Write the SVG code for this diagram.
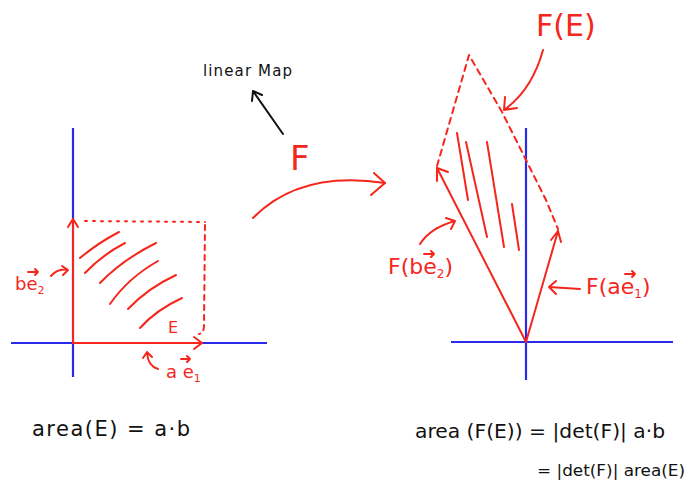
<svg xmlns="http://www.w3.org/2000/svg" width="689" height="485" viewBox="0 0 689 485">
<style>
.ax{stroke:#2a2ae8;stroke-width:2.2;fill:none}
.r{stroke:#f5261c;stroke-width:2;fill:none;stroke-linecap:round;stroke-linejoin:round}
.rt{fill:#f5261c;font-family:"DejaVu Sans",sans-serif}
.bt{fill:#111;font-family:"DejaVu Sans",sans-serif}
.k{stroke:#111;stroke-width:2;fill:none;stroke-linecap:round;stroke-linejoin:round}
</style>
<rect width="689" height="485" fill="#fff"/>
<g id="left-axes">
<line class="ax" x1="73" y1="128" x2="73" y2="377"/>
<line class="ax" x1="11" y1="343" x2="267" y2="343"/>
</g>
<g id="region-E">
<path class="r" d="M85 221 L205 222" stroke-dasharray="2 6"/>
<path class="r" d="M205 225 L204 326 Q204 333 199 334" stroke-dasharray="5 5"/>
<path class="r" d="M80 258 Q98 243 119 232"/>
<path class="r" d="M85 273 Q102 255 125 243"/>
<path class="r" d="M100 283 Q122 260 156 243"/>
<path class="r" d="M110 304 Q128 278 158 261"/>
<path class="r" d="M128 309 Q148 288 176 275"/>
<path class="r" d="M140 328 Q156 310 182 298"/>
<text class="rt" x="168" y="333" font-size="16">E</text>
</g>
<g id="vec-ae1">
<line class="r" x1="73" y1="343" x2="202" y2="343" stroke-width="2.6"/>
<path class="r" d="M194 337 L202 343 L194 349"/>
<path class="r" d="M158 369 Q148 366 147 353 M143 358 L147 352 L152 357"/>
<text class="rt" x="166" y="378" font-size="18">a e<tspan dy="4" font-size="11">1</tspan></text>
<path class="r" stroke-width="1.4" d="M181 359 L190 359 M187 356 L190 359 L187 362"/>
</g>
<g id="vec-be2">
<line class="r" x1="73" y1="343" x2="73" y2="219" stroke-width="2.6"/>
<path class="r" d="M68 227 L73 219 L78 227"/>
<path class="r" d="M51 276 Q58 268 68 270 M62 266 L68 270 L63 275"/>
<text class="rt" x="15" y="290" font-size="18">be<tspan dy="4" font-size="11">2</tspan></text>
<path class="r" stroke-width="1.4" d="M28 272 L38 272 M35 269 L38 272 L35 275"/>
</g>
<g id="map-F">
<path class="r" d="M253 218 Q300 170 385 183"/>
<path class="r" d="M374 173 L385 183 L371 195"/>
<text class="rt" x="290" y="170" font-size="34">F</text>
<path class="k" d="M283 134 L253 91 M252 101 L253 91 L262 95"/>
<text class="bt" x="203" y="76" font-size="15" textLength="89" lengthAdjust="spacing">linear Map</text>
</g>
<g id="right-axes">
<line class="ax" x1="526" y1="128" x2="526" y2="380"/>
<line class="ax" x1="451" y1="342" x2="673" y2="342"/>
</g>
<g id="region-FE">
<path class="r" d="M437 166 L469 55 L502 112 L526 160 L546 200 L558 229" stroke-dasharray="6 5"/>
<path class="r" d="M457 133 L468 200"/>
<path class="r" d="M466 142 L487 237"/>
<path class="r" d="M487 142 L504 247"/>
<path class="r" d="M512 204 L519 250"/>
<path class="r" d="M543 50 Q532 90 504 110 M505 97 L504 110 L517 108"/>
<text class="rt" x="536" y="36" font-size="30">F(E)</text>
</g>
<g id="vec-Fbe">
<line class="r" x1="526" y1="342" x2="437" y2="168"/>
<path class="r" d="M437 181 L437 168 L448 172"/>
<path class="r" d="M420 244 Q430 228 455 221 M446 218 L455 221 L451 229"/>
<text class="rt" x="388" y="274" font-size="22">F(be<tspan dy="4" font-size="12">2</tspan><tspan dy="-4">)</tspan></text>
<path class="r" stroke-width="1.4" d="M424 254 L434 254 M431 251 L434 254 L431 257"/>
</g>
<g id="vec-Fae">
<line class="r" x1="526" y1="342" x2="558" y2="231"/>
<path class="r" d="M551 240 L558 231 L561 242"/>
<path class="r" d="M580 289 L549 287 M556 281 L549 287 L556 294"/>
<text class="rt" x="586" y="294" font-size="22">F(ae<tspan dy="4" font-size="12">1</tspan><tspan dy="-4">)</tspan></text>
<path class="r" stroke-width="1.4" d="M625 274 L635 274 M632 271 L635 274 L632 277"/>
</g>
<g id="formulas">
<text class="bt" x="32" y="436" font-size="21" textLength="158" lengthAdjust="spacing">area(E) = a·b</text>
<text class="bt" x="415" y="438" font-size="20" textLength="250" lengthAdjust="spacingAndGlyphs">area (F(E)) = |det(F)| a·b</text>
<text class="bt" x="537" y="476" font-size="15" textLength="148" lengthAdjust="spacingAndGlyphs">= |det(F)| area(E)</text>
</g>
</svg>
